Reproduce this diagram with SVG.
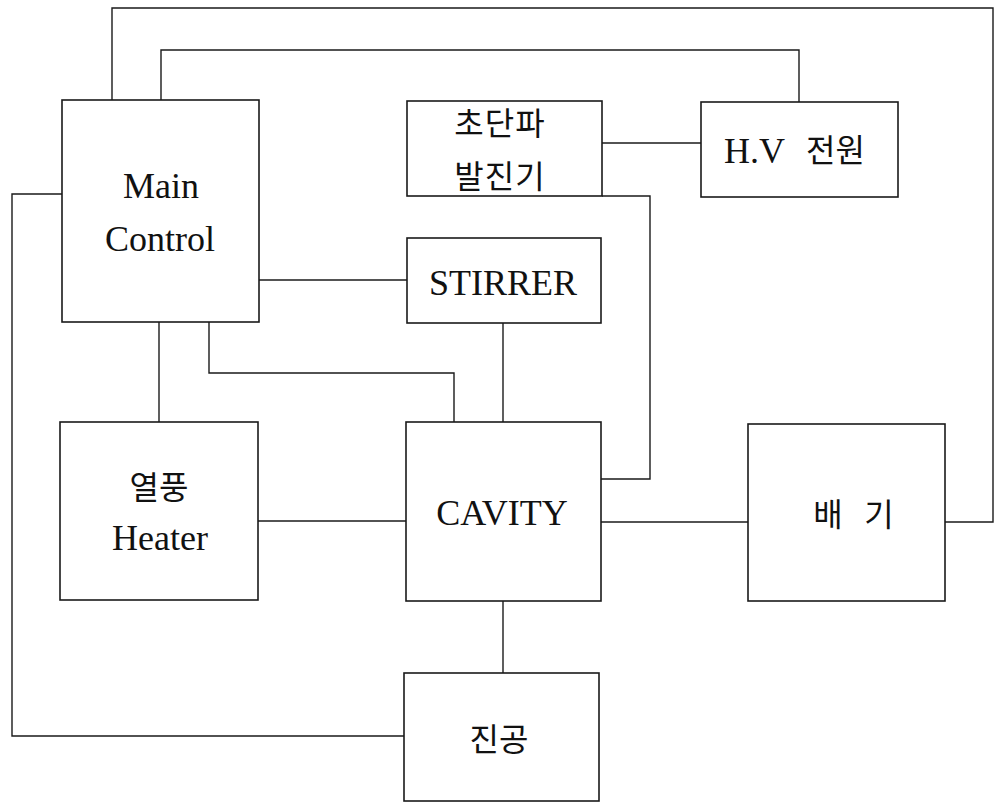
<svg xmlns="http://www.w3.org/2000/svg" width="1001" height="802" viewBox="0 0 1001 802">
<style>
.box{fill:none;stroke:#1a1a1a;stroke-width:1.6}
.ln{fill:none;stroke:#1a1a1a;stroke-width:1.4}
.t{font-family:"Liberation Serif","Noto Sans CJK KR",serif;font-size:36px;fill:#111;text-anchor:middle}
.k{font-family:"Noto Sans CJK KR","Liberation Serif",sans-serif;font-size:32px;fill:#111;text-anchor:middle}
</style>
<rect width="1001" height="802" fill="#fff"/>
<g id="connectors">
<polyline class="ln" points="112,100 112,8 993,8 993,522 945,522"/>
<polyline class="ln" points="161,100 161,50 799,50 799,102"/>
<line class="ln" x1="602" y1="143" x2="701" y2="143"/>
<polyline class="ln" points="602,196 650,196 650,479 601,479"/>
<line class="ln" x1="259" y1="280" x2="407" y2="280"/>
<line class="ln" x1="503" y1="323" x2="503" y2="422"/>
<line class="ln" x1="159" y1="322" x2="159" y2="422"/>
<polyline class="ln" points="209,322 209,373 454,373 454,422"/>
<polyline class="ln" points="62,194 12,194 12,736 404,736"/>
<line class="ln" x1="258" y1="521" x2="406" y2="521"/>
<line class="ln" x1="601" y1="522" x2="748" y2="522"/>
<line class="ln" x1="503" y1="601" x2="503" y2="673"/>
</g>
<g id="main-control">
<rect class="box" x="62" y="100" width="197" height="222"/>
<text class="t" x="161" y="198">Main</text>
<text class="t" x="160" y="251">Control</text>
</g>
<g id="ultrasonic-generator">
<rect class="box" x="407" y="101" width="195" height="95"/>
<text class="k" x="500" y="135" letter-spacing="1">초단파</text>
<text class="k" x="500" y="188" letter-spacing="1">발진기</text>
</g>
<g id="hv-power">
<rect class="box" x="701" y="102" width="197" height="95"/>
<text class="t" x="724" y="163" style="text-anchor:start">H.V</text>
<text class="k" x="806" y="162" style="text-anchor:start">전원</text>
</g>
<g id="stirrer">
<rect class="box" x="407" y="238" width="194" height="85"/>
<text class="t" x="503" y="295">STIRRER</text>
</g>
<g id="heater">
<rect class="box" x="60" y="422" width="198" height="178"/>
<text class="k" x="159" y="499">열풍</text>
<text class="t" x="160" y="550">Heater</text>
</g>
<g id="cavity">
<rect class="box" x="406" y="422" width="195" height="179"/>
<text class="t" x="502" y="525">CAVITY</text>
</g>
<g id="exhaust">
<rect class="box" x="748" y="424" width="197" height="177"/>
<text class="k" x="828" y="526">배</text>
<text class="k" x="879" y="526">기</text>
</g>
<g id="vacuum">
<rect class="box" x="404" y="673" width="195" height="128"/>
<text class="k" x="499" y="751">진공</text>
</g>
</svg>
